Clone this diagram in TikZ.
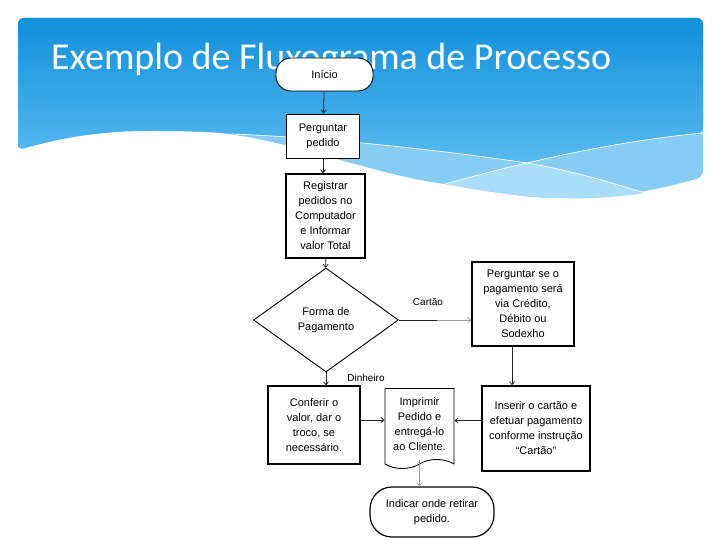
\documentclass[tikz,border=0pt]{standalone}
\usepackage{fontspec}
\setmainfont{Liberation Sans}
\newfontfamily\titlefont{Carlito}
\usetikzlibrary{shapes.geometric,shapes.symbols,arrows.meta}

\definecolor{hdrtop}{HTML}{1190DC}
\definecolor{hdrbot}{HTML}{58BAEE}
\definecolor{hdrmid}{HTML}{86CDF4}
\definecolor{hdrpale}{HTML}{AADDF8}
\definecolor{flowgray}{HTML}{9A9A9A}

\begin{document}
\begin{tikzpicture}[
        x=1pt, y=-1pt,
        >={Straight Barb[length=3pt,width=5pt]},
        proc/.style={draw, rectangle, fill=white, line width=0.9pt, inner sep=1pt, align=center, font=\fontsize{11}{15}\selectfont},
        term/.style={proc, rounded corners=15pt},
        decision/.style={draw, diamond, fill=white, line width=0.9pt, inner sep=0pt, align=center, font=\fontsize{11}{15}\selectfont},
        docshape/.style={draw, tape, tape bend top=none, tape bend height=9pt, fill=white, line width=0.9pt, inner sep=1pt, align=center, font=\fontsize{11}{15}\selectfont},
        flow/.style={->, line width=0.8pt, black!85},
        lbl/.style={font=\fontsize{10}{12}\selectfont}
    ]
        \useasboundingbox (0,0) rectangle (720,540);
        \fill[white] (0,0) rectangle (720,540);

        % Header with waves
        \fill[hdrmid, rounded corners=6pt] (18,150) -- (18,18) -- (703,18) -- (703,177)
            .. controls (640,195) and (600,198) .. (560,198)
            .. controls (530,198) and (490,192) .. (445,184)
            .. controls (380,175) and (300,145) .. (235,135)
            .. controls (215,132) and (190,131) .. (150,131)
            .. controls (100,131) and (60,138) .. (18,150) -- cycle;
        \fill[hdrpale] (445,184) .. controls (475,176) and (500,169) .. (527,163)
            .. controls (575,171) and (615,184) .. (645,193)
            .. controls (610,198) and (585,199) .. (560,198)
            .. controls (530,198) and (490,192) .. (445,184) -- cycle;
        \shade[top color=hdrtop, bottom color=hdrbot, rounded corners=6pt] (18,150) -- (18,18) -- (703,18) -- (703,133)
            .. controls (650,138) and (590,148) .. (527,163)
            .. controls (440,150) and (330,138) .. (232,134)
            .. controls (215,132) and (190,131) .. (150,131)
            .. controls (100,131) and (60,138) .. (18,150) -- cycle;
        \draw[white, line width=0.7pt] (232,134) .. controls (330,138) and (440,150) .. (527,163)
            .. controls (575,171) and (615,184) .. (645,193);
        \draw[white, line width=0.7pt] (445,184) .. controls (475,176) and (500,169) .. (527,163)
            .. controls (590,148) and (650,138) .. (703,133);

        % Title
        \node (title) [anchor=base west, inner sep=0pt, text=white, font=\titlefont\fontsize{38}{40}\selectfont] at (51,70) {Exemplo de Fluxograma de Processo};

        % Flowchart
        \node (inicio) [term, minimum width=97pt, minimum height=33pt] at (324.5,74.5) {Início};
        \node (perg) [proc, minimum width=73pt, minimum height=44pt] at (323,136) {Perguntar\\pedido};
        \node (regist) [proc, line width=1.5pt, minimum width=79pt, minimum height=84pt] at (325.5,216) {Registrar\\pedidos no\\Computador\\e Informar\\valor Total};
        \node (forma) [decision, minimum width=145pt, minimum height=104pt] at (326,320) {Forma de\\Pagamento};
        \node (tipo) [proc, line width=1.2pt, minimum width=102pt, minimum height=84pt] at (523,304) {Perguntar se o\\pagamento será\\via Crédito,\\Débito ou\\Sodexho};
        \node (conferir) [proc, line width=1.2pt, minimum width=92pt, minimum height=78pt] at (314,425) {Conferir o\\valor, dar o\\troco, se\\necessário.};
        \node (imprimir) [docshape, minimum width=69pt, minimum height=80pt] at (419.5,424) {Imprimir\\Pedido e\\entregá-lo\\ao Cliente.};
        \node (inserir) [proc, line width=1.5pt, minimum width=108pt, minimum height=85pt] at (536,428.5) {Inserir o cartão e\\efetuar pagamento\\conforme instrução\\``Cartão''};
        \node (fim) [term, rounded corners=22pt, line width=1.2pt, minimum width=124pt, minimum height=50pt] at (432,512) {Indicar onde retirar\\pedido.};

        % Labels
        \node (cartao) [lbl] at (428,302) {Cartão};
        \node (dinheiro) [lbl] at (366,378) {Dinheiro};
        \coordinate (cmid) at (437,320);

        % Connectors
        \draw[flow] (inicio) -- (perg);
        \draw[flow] (perg.south) -- (perg.south |- regist.north);
        \draw[flow] (regist) -- (forma);
        \draw[line width=0.8pt, black!85] (forma.east) -- (cmid);
        \draw[flow, flowgray] (cmid) -- (cmid -| tipo.west);
        \draw[flow] (forma.south) -- (forma.south |- conferir.north);
        \draw[flow] ([xshift=-11pt]tipo.south) -- ([xshift=-11pt]tipo.south |- inserir.north);
        \draw[flow] ([yshift=5pt]conferir.east) -- ([yshift=5pt]conferir.east -| imprimir.west);
        \draw[flow] ([yshift=8pt]inserir.west) -- ([yshift=8pt]inserir.west -| imprimir.east);
        \draw[flow, flowgray] (imprimir.south) -- (imprimir.south |- fim.north);
\end{tikzpicture}
\end{document}
